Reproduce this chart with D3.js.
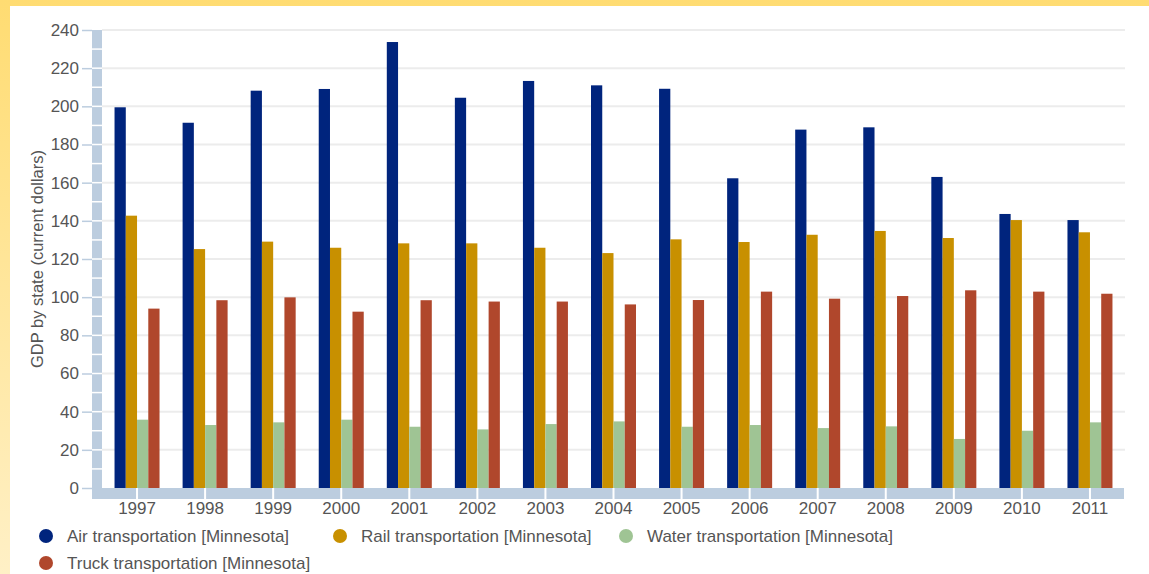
<!DOCTYPE html>
<html>
<head>
<meta charset="utf-8">
<script src="https://cdn.jsdelivr.net/npm/d3@7"></script>
<style>
  html, body { margin: 0; padding: 0; }
  body { width: 1149px; height: 574px; overflow: hidden; }
  svg text { font-family: "Liberation Sans", Arial, sans-serif; fill: #555; }
</style>
</head>
<body>
<svg id="chart" width="1149" height="574"></svg>
<script>
// data
var years = ["1997", "1998", "1999", "2000", "2001", "2002", "2003", "2004",
             "2005", "2006", "2007", "2008", "2009", "2010", "2011"];
var seriesNames = ["Air transportation [Minnesota]", "Rail transportation [Minnesota]",
                   "Water transportation [Minnesota]", "Truck transportation [Minnesota]"];
var air   = [199.5, 191.4, 208.2, 209.1, 233.7, 204.5, 213.3, 211.0, 209.2, 162.3, 187.8, 189.0, 163.0, 143.6, 140.4];
var rail  = [142.7, 125.2, 129.1, 125.9, 128.2, 128.2, 125.9, 123.1, 130.3, 128.9, 132.7, 134.7, 131.0, 140.4, 134.0];
var water = [35.8, 33.0, 34.4, 35.8, 32.1, 30.7, 33.5, 34.9, 32.1, 33.0, 31.4, 32.3, 25.7, 30.0, 34.4];
var truck = [94.0, 98.4, 99.9, 92.4, 98.4, 97.7, 97.7, 96.2, 98.5, 102.9, 99.2, 100.6, 103.6, 102.9, 101.8];
var yTicks = [0, 20, 40, 60, 80, 100, 120, 140, 160, 180, 200, 220, 240];
var colors = ["#00247d", "#c89000", "#9fc494", "#b0472c"];

var allSeries = [air, rail, water, truck];

var svg = d3.select("#chart");

// yellow frame
var defs = svg.append("defs");
var grad = defs.append("linearGradient").attr("id", "frame").attr("x1", 0).attr("y1", 0).attr("x2", 0).attr("y2", 1);
grad.append("stop").attr("offset", "0%").attr("stop-color", "#ffdc72");
grad.append("stop").attr("offset", "100%").attr("stop-color", "#fff0c6");
svg.append("rect").attr("width", 1149).attr("height", 574).attr("fill", "url(#frame)");
svg.append("rect").attr("x", 10).attr("y", 6).attr("width", 1139).attr("height", 568).attr("fill", "#fff");

var axisClr = "#bccddf";

var x = d3.scaleBand().domain(years).range([103, 1124]);
var xs = d3.scaleBand().domain(d3.range(4)).range([0, 45]);
var y = d3.scaleLinear().domain([0, 240]).range([488, 30]);

// gridlines
svg.append("g").selectAll("line").data(yTicks.slice(1)).join("line")
    .attr("x1", 102).attr("x2", 1125)
    .attr("y1", d => y(d)).attr("y2", d => y(d))
    .attr("stroke", "#ececec").attr("stroke-width", 2);

// y axis bar with minor separators
svg.append("rect").attr("x", 92).attr("y", y(240)).attr("width", 10)
    .attr("height", y(0) - y(240)).attr("fill", axisClr);
svg.append("g").selectAll("line").data(d3.range(10, 240, 10)).join("line")
    .attr("x1", 92).attr("x2", 102)
    .attr("y1", d => y(d)).attr("y2", d => y(d))
    .attr("stroke", "#fff").attr("stroke-width", 1.5);

var yAxis = d3.axisLeft(y).tickValues(yTicks).tickSize(10).tickPadding(3);
var yg = svg.append("g").attr("transform", "translate(92,0)").call(yAxis);
yg.select(".domain").remove();
yg.selectAll(".tick line").attr("stroke", axisClr).attr("stroke-width", 1.5);
yg.selectAll(".tick text").attr("font-size", 17).style("fill", "#555");

svg.append("text")
    .attr("transform", "translate(37," + y(120) + ") rotate(-90)")
    .attr("text-anchor", "middle").attr("dy", "0.35em")
    .attr("font-size", 16.5)
    .text("GDP by state (current dollars)");

// bars
var groups = svg.append("g").selectAll("g").data(years).join("g")
    .attr("transform", d => "translate(" + (x(d) + (x.bandwidth() - 45) / 2) + ",0)");
groups.selectAll("rect").data((d, i) => allSeries.map((s, k) => ({ k: k, v: s[i] }))).join("rect")
    .attr("x", d => xs(d.k))
    .attr("width", xs.bandwidth())
    .attr("y", d => y(d.v))
    .attr("height", d => y(0) - y(d.v))
    .attr("fill", d => colors[d.k]);

// x axis bar
svg.append("rect").attr("x", 92).attr("y", 488).attr("width", 1032).attr("height", 11).attr("fill", axisClr);
var xAxis = d3.axisBottom(x).tickSize(0).tickPadding(14);
var xg = svg.append("g").attr("transform", "translate(0,488)").call(xAxis);
xg.select(".domain").remove();
xg.selectAll(".tick").append("line").attr("y1", 0).attr("y2", 11)
    .attr("stroke", "#fff").attr("stroke-width", 2);
xg.selectAll(".tick text").attr("font-size", 17).style("fill", "#555");

// legend
var legendPos = [[46, 536], [340, 536], [626, 536], [46, 563]];
var lg = svg.append("g").selectAll("g").data(seriesNames).join("g")
    .attr("transform", (d, i) => "translate(" + legendPos[i][0] + "," + legendPos[i][1] + ")");
lg.append("circle").attr("r", 7).attr("fill", (d, i) => colors[i]);
lg.append("text").attr("x", 21).attr("dy", "0.35em").attr("font-size", 17).text(d => d);
</script>
</body>
</html>
